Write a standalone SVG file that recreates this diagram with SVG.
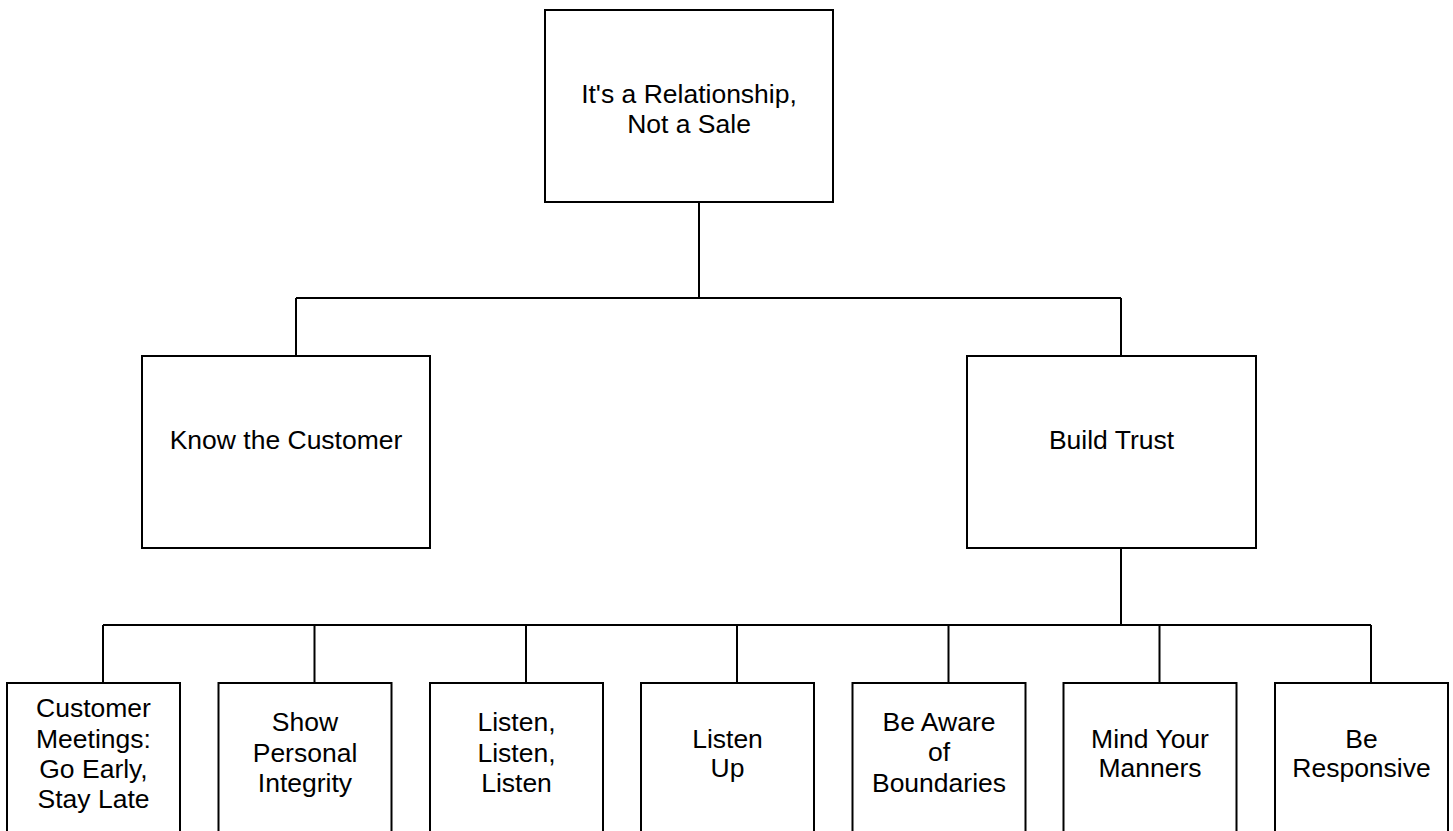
<svg xmlns="http://www.w3.org/2000/svg" width="1453" height="831" viewBox="0 0 1453 831">
<style>
.box{fill:#fff;stroke:#000;stroke-width:2}
.con{fill:none;stroke:#000;stroke-width:2}
text{font-family:"Liberation Sans",Arial,sans-serif;font-size:26.5px;fill:#000;text-anchor:middle}
</style>
<rect width="1453" height="831" fill="#fff"/>
<g id="connectors">
<path class="con" d="M699 202V298M296 298H1121M296 298V356M1121 298V356"/>
<path class="con" d="M1121 548V625M103 625H1371M103 625V683M314.5 625V683M526 625V683M737 625V683M948.5 625V683M1159.5 625V683M1371 625V683"/>
</g>
<g id="n-root"><rect class="box" x="545" y="10" width="288" height="192"/><text x="689" y="103">It's a Relationship,</text><text x="689" y="133">Not a Sale</text></g>
<g id="n-know"><rect class="box" x="142" y="356" width="288" height="192"/><text x="286" y="449">Know the Customer</text></g>
<g id="n-trust"><rect class="box" x="967" y="356" width="289" height="192"/><text x="1111.5" y="449">Build Trust</text></g>
<g id="n-meet"><rect class="box" x="7" y="683" width="173" height="160"/><text x="93.5" y="717">Customer</text><text x="93.5" y="747.5">Meetings:</text><text x="93.5" y="778">Go Early,</text><text x="93.5" y="808">Stay Late</text></g>
<g id="n-integrity"><rect class="box" x="218.5" y="683" width="173" height="160"/><text x="305" y="731">Show</text><text x="305" y="761.5">Personal</text><text x="305" y="792">Integrity</text></g>
<g id="n-listen3"><rect class="box" x="430" y="683" width="173" height="160"/><text x="516.5" y="731">Listen,</text><text x="516.5" y="761.5">Listen,</text><text x="516.5" y="792">Listen</text></g>
<g id="n-listenup"><rect class="box" x="641" y="683" width="173" height="160"/><text x="727.5" y="747.5">Listen</text><text x="727.5" y="777">Up</text></g>
<g id="n-bound"><rect class="box" x="852.5" y="683" width="173" height="160"/><text x="939" y="731">Be Aware</text><text x="939" y="761">of</text><text x="939" y="792">Boundaries</text></g>
<g id="n-manners"><rect class="box" x="1063.5" y="683" width="173" height="160"/><text x="1150" y="747.5">Mind Your</text><text x="1150" y="777">Manners</text></g>
<g id="n-resp"><rect class="box" x="1275" y="683" width="173" height="160"/><text x="1361.5" y="747.5">Be</text><text x="1361.5" y="777">Responsive</text></g>
</svg>
